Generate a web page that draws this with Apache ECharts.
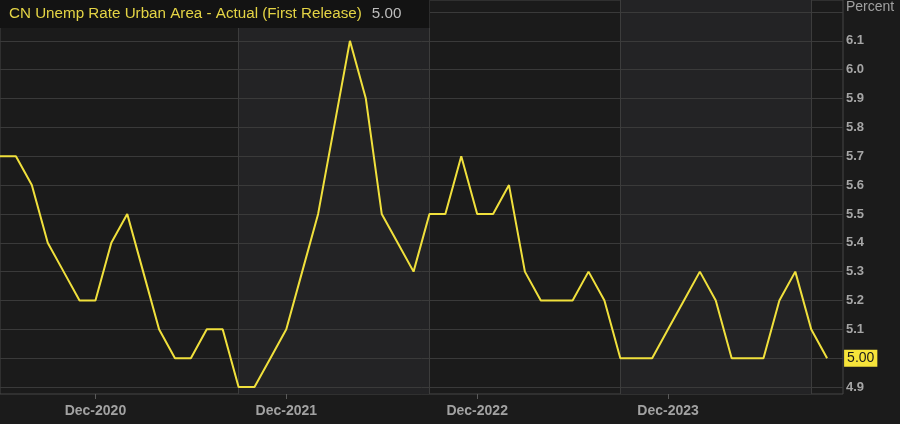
<!DOCTYPE html>
<html>
<head>
<meta charset="utf-8">
<script src="https://cdn.jsdelivr.net/npm/echarts@6/dist/echarts.min.js"></script>
<style>
html,body{margin:0;padding:0;background:#1b1b1b;}
#c{width:900px;height:424px;}
</style>
</head>
<body>
<div id="c"></div>
<script>
const seriesName = 'CN Unemp Rate Urban Area - Actual (First Release)';
const lastValueText = '5.00';
const unitLabel = 'Percent';
const categories = [
  'Jun-2020','Jul-2020','Aug-2020','Sep-2020','Oct-2020','Nov-2020','Dec-2020',
  'Jan-2021','Feb-2021','Mar-2021','Apr-2021','May-2021','Jun-2021','Jul-2021','Aug-2021','Sep-2021','Oct-2021','Nov-2021','Dec-2021',
  'Jan-2022','Feb-2022','Mar-2022','Apr-2022','May-2022','Jun-2022','Jul-2022','Aug-2022','Sep-2022','Oct-2022','Nov-2022','Dec-2022',
  'Jan-2023','Feb-2023','Mar-2023','Apr-2023','May-2023','Jun-2023','Jul-2023','Aug-2023','Sep-2023','Oct-2023','Nov-2023','Dec-2023',
  'Jan-2024','Feb-2024','Mar-2024','Apr-2024','May-2024','Jun-2024','Jul-2024','Aug-2024','Sep-2024','Oct-2024',
  'Nov-2024'
];
const values = [
  5.7,5.7,5.6,5.4,5.3,5.2,5.2,
  5.4,5.5,5.3,5.1,5.0,5.0,5.1,5.1,4.9,4.9,5.0,5.1,
  5.3,5.5,5.8,6.1,5.9,5.5,5.4,5.3,5.5,5.5,5.7,5.5,
  5.5,5.6,5.3,5.2,5.2,5.2,5.3,5.2,5.0,5.0,5.0,5.1,
  5.2,5.3,5.2,5.0,5.0,5.0,5.2,5.3,5.1,5.0
];
const tickLabels = ['Dec-2020','Dec-2021','Dec-2022','Dec-2023'];
const bands = [['Sep-2021','Sep-2022'],['Sep-2023','Sep-2024']];
const dividers = ['Sep-2021','Sep-2022','Sep-2023','Sep-2024'];
const yMin = 4.9, yMax = 6.2, yStep = 0.1;

const chart = echarts.init(document.getElementById('c'), null, {renderer:'canvas'});
const font = '"Liberation Sans", Arial, sans-serif';
chart.setOption({
  backgroundColor: '#1b1b1b',
  animation: false,
  title: [
    {
      left: 0, top: 0,
      padding: [5, 28, 5, 9],
      backgroundColor: '#131313',
      text: '{a|' + seriesName + '}  {b|' + lastValueText + '}',
      textStyle: {
        fontFamily: font, fontWeight: 'normal',
        rich: {
          a: {color: '#e4d445', fontSize: 15.2, fontWeight: 'normal', fontFamily: font, lineHeight: 15},
          b: {color: '#bdbdbd', fontSize: 15.2, fontWeight: 'normal', fontFamily: font, lineHeight: 15}
        }
      }
    },
    {
      left: 846, top: 0, padding: 0,
      text: unitLabel,
      textStyle: {color: '#a0a0a0', fontSize: 14, fontWeight: 'normal', fontFamily: font}
    }
  ],
  grid: [
    {left: 0, right: 57, top: 12, bottom: 37, show: false},
    {left: 0, right: 57, top: 0, bottom: 30, show: true, borderColor: '#474747', borderWidth: 1, backgroundColor: 'transparent'}
  ],
  xAxis: [
    {gridIndex: 0, type: 'category', data: categories, boundaryGap: false, show: false},
    {
      gridIndex: 1, type: 'category', data: categories, boundaryGap: false,
      axisLine: {show: false},
      axisTick: {show: true, length: 5, lineStyle: {color: '#5a5a5a'}, interval: (i, v) => tickLabels.includes(v)},
      axisLabel: {
        interval: (i, v) => tickLabels.includes(v),
        color: '#a2a2a2', fontSize: 14, fontWeight: 'bold', fontFamily: font, margin: 10
      },
      splitLine: {show: false}
    }
  ],
  yAxis: [
    {
      gridIndex: 0, type: 'value', position: 'right', min: yMin, max: yMax, interval: yStep, z: 5,
      axisLine: {show: false}, axisTick: {show: false},
      axisLabel: {
        margin: 3, color: '#a6a6a6', fontSize: 13, fontWeight: 'bold', fontFamily: font,
        formatter: v => (Math.abs(v - yMax) < 1e-6 ? '' : v.toFixed(1))
      },
      splitLine: {show: true, lineStyle: {color: '#3a3a3a', width: 1}}
    },
    {gridIndex: 1, type: 'value', min: 0, max: 1, show: false}
  ],
  series: [
    {
      type: 'line', xAxisIndex: 1, yAxisIndex: 1, z: 1,
      data: categories.map(() => null), symbol: 'none', silent: true,
      markArea: {
        silent: true,
        itemStyle: {color: '#232325'},
        data: bands.map(b => [{xAxis: b[0]}, {xAxis: b[1]}])
      },
      markLine: {
        silent: true, symbol: 'none', label: {show: false},
        lineStyle: {color: '#3c3c3c', type: 'solid', width: 1},
        data: dividers.map(d => ({xAxis: d}))
      }
    },
    {
      type: 'line', xAxisIndex: 0, yAxisIndex: 0, z: 10,
      data: values, symbol: 'none', smooth: false,
      lineStyle: {color: '#f0e03c', width: 2},
      endLabel: {
        show: true, distance: 17,
        formatter: p => Number(p.value).toFixed(2),
        backgroundColor: '#f6e43a', color: '#1a1a1a',
        fontSize: 14, fontFamily: font, padding: [2, 3, 1, 3]
      }
    }
  ]
});
</script>
</body>
</html>
